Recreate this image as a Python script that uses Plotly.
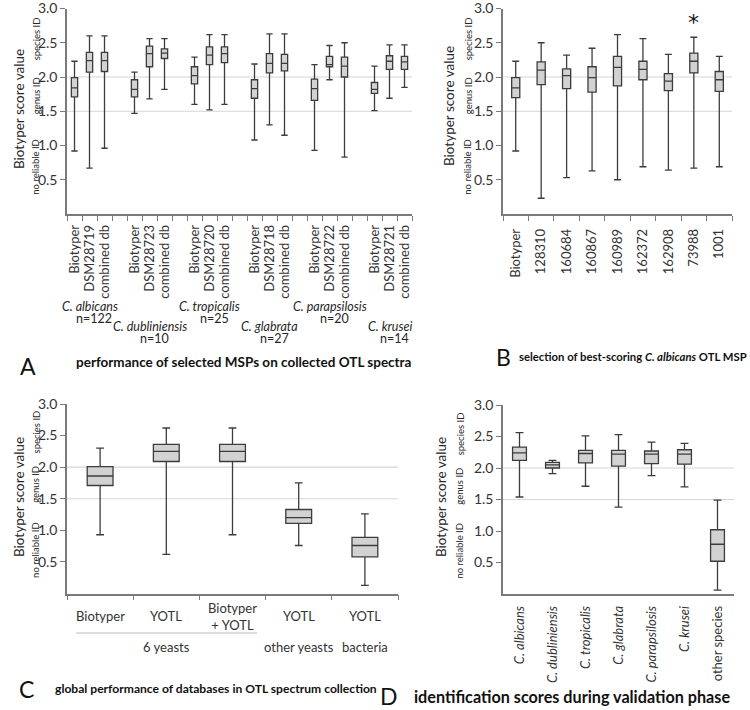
import plotly.graph_objects as go

W, H = 750, 710

# ---------------- data ----------------
# Panel A: performance of selected MSPs on collected OTL spectra
species_A = ["C. albicans", "C. dubliniensis", "C. tropicalis", "C. glabrata", "C. parapsilosis", "C. krusei"]
n_A = [122, 10, 25, 27, 20, 14]
db_A = [["Biotyper", "DSM28719", "combined db"],
        ["Biotyper", "DSM28723", "combined db"],
        ["Biotyper", "DSM28720", "combined db"],
        ["Biotyper", "DSM28718", "combined db"],
        ["Biotyper", "DSM28722", "combined db"],
        ["Biotyper", "DSM28721", "combined db"]]
A_upper = [2.23, 2.60, 2.60, 2.07, 2.56, 2.56, 2.29, 2.62, 2.62, 2.19, 2.63, 2.63, 2.18, 2.46, 2.50, 2.16, 2.47, 2.47]
A_q3 = [1.99, 2.36, 2.36, 1.96, 2.45, 2.41, 2.15, 2.44, 2.44, 1.96, 2.34, 2.33, 1.97, 2.30, 2.29, 1.92, 2.31, 2.30]
A_median = [1.84, 2.24, 2.24, 1.82, 2.34, 2.35, 2.02, 2.32, 2.34, 1.83, 2.20, 2.20, 1.83, 2.18, 2.16, 1.82, 2.23, 2.22]
A_q1 = [1.71, 2.07, 2.08, 1.71, 2.15, 2.27, 1.90, 2.18, 2.21, 1.69, 2.06, 2.09, 1.66, 2.15, 2.00, 1.76, 2.11, 2.11]
A_lower = [0.92, 0.67, 0.96, 1.47, 1.68, 1.82, 1.60, 1.52, 1.60, 1.08, 1.30, 1.15, 0.93, 1.96, 0.83, 1.51, 1.69, 1.85]

# Panel B: selection of best-scoring C. albicans OTL MSP
msp_B = ["Biotyper", "128310", "160684", "160867", "160989", "162372", "162908", "73988", "1001"]
best_B = "73988"
B_upper = [2.23, 2.50, 2.32, 2.42, 2.62, 2.56, 2.33, 2.58, 2.30]
B_q3 = [1.99, 2.22, 2.12, 2.15, 2.30, 2.23, 2.05, 2.35, 2.08]
B_median = [1.84, 2.10, 2.02, 1.99, 2.14, 2.11, 1.94, 2.23, 1.96]
B_q1 = [1.70, 1.89, 1.83, 1.78, 1.87, 1.96, 1.80, 2.06, 1.79]
B_lower = [0.92, 0.23, 0.53, 0.63, 0.50, 0.69, 0.64, 0.67, 0.69]

# Panel C: global performance of databases
db_C = ["Biotyper", "YOTL", "Biotyper<br>+ YOTL", "YOTL", "YOTL"]
groups_C = ["6 yeasts", "other yeasts", "bacteria"]
group_size_C = [3, 1, 1]
C_upper = [2.30, 2.62, 2.62, 1.75, 1.26]
C_q3 = [2.01, 2.36, 2.36, 1.33, 0.89]
C_median = [1.86, 2.25, 2.25, 1.20, 0.76]
C_q1 = [1.71, 2.09, 2.09, 1.11, 0.58]
C_lower = [0.93, 0.62, 0.93, 0.76, 0.13]

# Panel D: identification scores during validation phase
species_D = ["C. albicans", "C. dubliniensis", "C. tropicalis", "C. glabrata", "C. parapsilosis", "C. krusei", "other species"]
D_upper = [2.56, 2.12, 2.51, 2.53, 2.41, 2.39, 1.49]
D_q3 = [2.33, 2.09, 2.28, 2.28, 2.27, 2.29, 1.02]
D_median = [2.24, 2.05, 2.23, 2.22, 2.22, 2.22, 0.79]
D_q1 = [2.12, 2.00, 2.08, 2.03, 2.07, 2.06, 0.52]
D_lower = [1.54, 1.91, 1.71, 1.38, 1.88, 1.70, 0.06]

y_ticks = [0.5, 1.0, 1.5, 2.0, 2.5, 3.0]
thresholds = [1.5, 2.0]
zones = [("species ID", 2.55), ("genus ID", 1.72), ("no reliable ID", 0.69)]

# ---------------- style ----------------
FONT = "Lato"
AX = "#7a7a7a"
BOXLINE = "#3c3c3c"
BOXFILL = "#d2d2d2"
TXT = "#262626"


def xdom(a, b):
    return [a / W, b / W]


def ydom(top, bottom):
    return [1 - bottom / H, 1 - top / H]


def px_x(v):
    return v / W


def px_y(v):
    return 1 - v / H


fig = go.Figure()
annotations = []
shapes = []

# positions
pos_A = [4 * g + j + 0.5 for g in range(len(species_A)) for j in range(3)]
lab_A = [lab for grp in db_A for lab in grp]
pos_B = [i + 0.5 for i in range(len(msp_B))]
pos_C = [i + 0.5 for i in range(len(db_C))]
pos_D = [i + 0.5 for i in range(len(species_D))]


def add_box(xs, up, q3, med, q1, lo, width, ww, ax):
    fig.add_trace(go.Box(
        x=xs, q1=q1, median=med, q3=q3, lowerfence=lo, upperfence=up,
        width=width, whiskerwidth=ww, fillcolor=BOXFILL,
        line=dict(color=BOXLINE, width=1.3), boxpoints=False,
        showlegend=False, hoverinfo="skip", xaxis="x" + ax, yaxis="y" + ax))


add_box(pos_A, A_upper, A_q3, A_median, A_q1, A_lower, 0.42, 1.0, "")
add_box(pos_B, B_upper, B_q3, B_median, B_q1, B_lower, 0.32, 0.85, "2")
add_box(pos_C, C_upper, C_q3, C_median, C_q1, C_lower, 0.39, 0.3, "3")
add_box(pos_D, D_upper, D_q3, D_median, D_q1, D_lower, 0.42, 0.57, "4")


def yaxis(dom, anchor):
    return dict(domain=dom, anchor=anchor, range=[0, 3.0], tickvals=y_ticks, tickformat=".1f",
                ticks="outside", ticklen=5, tickcolor=AX, tickwidth=1.3, automargin=False,
                ticklabeloverflow="allow",
                showline=True, linecolor=AX, linewidth=1.5, showgrid=False, zeroline=False,
                tickfont=dict(size=14, color="#333333", family=FONT), fixedrange=True)


def xaxis(dom, anchor, rng, tv, tt, angle, nminor, standoff, fs=13):
    d = dict(domain=dom, anchor=anchor, range=rng, tickvals=tv, ticktext=tt, tickangle=angle,
             ticks="", showline=True, linecolor=AX, linewidth=1.5, showgrid=False, zeroline=False,
             automargin=False, ticklabeloverflow="allow", ticklabelstandoff=standoff,
             tickfont=dict(size=fs, color="#333333", family=FONT), fixedrange=True)
    if nminor is not None:
        d["minor"] = dict(tickmode="array", tickvals=list(range(nminor + 1)), ticks="outside",
                          ticklen=5, tickcolor=AX, tickwidth=1.3, showgrid=False)
    return d


layout = dict(
    xaxis=xaxis(xdom(67, 412), "y", [0, 23], pos_A, lab_A, -90, 23, 4),
    yaxis=yaxis(ydom(8.5, 214), "x"),
    xaxis2=xaxis(xdom(503, 732), "y2", [0, len(msp_B)], pos_B, msp_B, -90, len(msp_B), 8),
    yaxis2=yaxis(ydom(8.5, 214), "x2"),
    xaxis3=xaxis(xdom(67, 398), "y3", [0, len(db_C)], pos_C, [""] * len(db_C), 0, len(db_C), 0),
    yaxis3=yaxis(ydom(404, 593.5), "x3"),
    xaxis4=xaxis(xdom(503, 734), "y4", [0, len(species_D)], pos_D,
                 ["<i>%s</i>" % s if s.startswith("C.") else s for s in species_D], -90, None, 5),
    yaxis4=yaxis(ydom(405, 594), "x4"),
)

# threshold lines
for ax in ["", "2", "3", "4"]:
    for t in thresholds:
        shapes.append(dict(type="line", xref="x%s domain" % ax, yref="y" + ax, x0=0, x1=1, y0=t, y1=t,
                           line=dict(color="#d6d6d6", width=1.2), layer="below"))

# y titles and zone labels
for ax, xt, xz, yc in [("", 19, 36, 109), ("2", 449, 468, 106), ("3", 19, 36, 497), ("4", 441, 460, 497)]:
    annotations.append(dict(text="Biotyper score value", textangle=-90, xref="paper", yref="paper",
                            x=px_x(xt), y=px_y(yc), showarrow=False, xanchor="center", yanchor="middle",
                            font=dict(size=13.5, color=TXT, family=FONT)))
    for name, v in zones:
        annotations.append(dict(text=name, textangle=-90, xref="paper", yref="y" + ax,
                                x=px_x(xz), y=v, showarrow=False, xanchor="center", yanchor="middle",
                                font=dict(size=9.5, color=TXT, family=FONT)))

# Panel A species labels
for g, (sp, n) in enumerate(zip(species_A, n_A)):
    row = g % 2
    xc = 4 * g + 1.5
    y1 = 306.5 + 20 * row
    annotations.append(dict(text="<i>%s</i>" % sp, xref="x", yref="paper", x=xc, y=px_y(y1),
                            showarrow=False, xanchor="center", yanchor="middle",
                            font=dict(size=12.5, color=TXT, family=FONT)))
    annotations.append(dict(text="n=%d" % n, xref="x", yref="paper", x=xc + 0.3, y=px_y(y1 + 11.5),
                            showarrow=False, xanchor="center", yanchor="middle",
                            font=dict(size=12.5, color=TXT, family=FONT)))

# Panel B asterisk
annotations.append(dict(text="*", xref="x2", yref="y2", x=pos_B[msp_B.index(best_B)], y=2.80,
                        showarrow=False, xanchor="center", yanchor="middle",
                        font=dict(size=22, color="#111111", family="DejaVu Sans")))

# Panel C labels
for p, lab in zip(pos_C, db_C):
    annotations.append(dict(text=lab, xref="x3", yref="paper", x=p, y=px_y(616),
                            showarrow=False, xanchor="center", yanchor="middle", align="center",
                            font=dict(size=13, color="#333333", family=FONT)))
start = 0
for gname, gs in zip(groups_C, group_size_C):
    annotations.append(dict(text=gname, xref="x3", yref="paper", x=start + gs / 2, y=px_y(647),
                            showarrow=False, xanchor="center", yanchor="middle",
                            font=dict(size=13, color="#333333", family=FONT)))
    if gs > 1:
        shapes.append(dict(type="line", xref="x3", yref="paper", x0=start + 0.14, x1=start + gs - 0.13,
                           y0=px_y(633), y1=px_y(633), line=dict(color="#bdbdbd", width=1.2)))
    start += gs

# panel letters and titles
for letter, lx, ly, title, tx, ty, fs in [
    ("A", 28, 366, "performance of selected MSPs on collected OTL spectra", 74, 362, 13.5),
    ("B", 503, 357, "selection of best-scoring <i>C. albicans</i> OTL MSP", 517, 356, 11.3),
    ("C", 26, 689, "global performance of databases in OTL spectrum collection", 53, 688, 12.1),
    ("D", 389, 696, "identification scores during validation phase", 412, 696, 16.2),
]:
    annotations.append(dict(text=letter, xref="paper", yref="paper", x=px_x(lx), y=px_y(ly),
                            showarrow=False, xanchor="center", yanchor="middle",
                            font=dict(size=23, color="#111111", family=FONT)))
    annotations.append(dict(text="<b>%s</b>" % title, xref="paper", yref="paper", x=px_x(tx), y=px_y(ty),
                            showarrow=False, xanchor="left", yanchor="middle",
                            font=dict(size=fs, color="#111111", family=FONT)))

fig.update_layout(**layout)
fig.update_layout(width=W, height=H, margin=dict(l=0, r=0, t=0, b=0, autoexpand=False),
                  paper_bgcolor="white",
                  plot_bgcolor="white", annotations=annotations, shapes=shapes,
                  font=dict(family=FONT, color=TXT), showlegend=False)

fig.write_html("out.html", config={"displayModeBar": False},
               post_script="document.body.style.margin='0';document.body.style.overflow='hidden';")
